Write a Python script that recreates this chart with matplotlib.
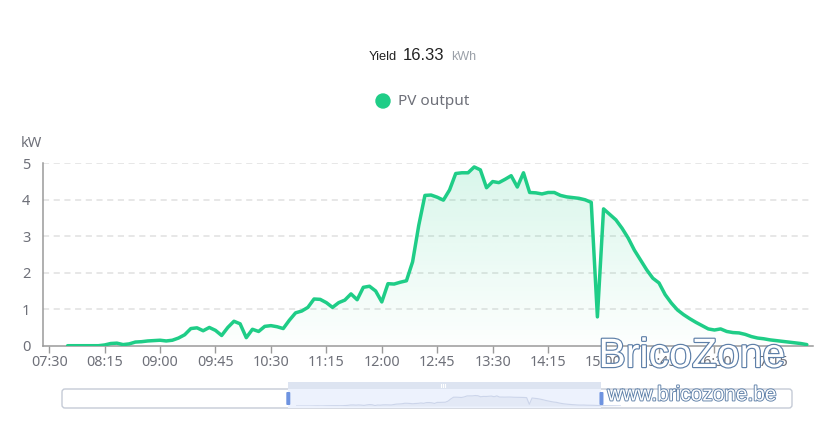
import numpy as np
import matplotlib
matplotlib.use("Agg")
import matplotlib.pyplot as plt
from matplotlib.patches import FancyBboxPatch, Rectangle, Circle
import matplotlib.patheffects as pe

# ---------------- data ----------------
series_name = "PV output"
yield_value = "16.33"
yield_unit = "kWh"
y_unit = "kW"
axis_start = "07:25"
axis_end = "17:50"
data_start = "07:45"
step_minutes = 5
pv_kw = [
    0.00, 0.00, 0.00, 0.00, 0.00, 0.00, 0.02, 0.06, 0.07, 0.03,   # 07:45-08:30
    0.05, 0.10, 0.11, 0.13, 0.14, 0.15, 0.13, 0.15, 0.21, 0.30,   # 08:35-09:20
    0.47, 0.49, 0.41, 0.50, 0.42, 0.28, 0.50, 0.67, 0.60, 0.22,   # 09:25-10:10
    0.45, 0.39, 0.53, 0.55, 0.52, 0.47, 0.70, 0.90, 0.95, 1.05,   # 10:15-11:00
    1.28, 1.27, 1.18, 1.05, 1.18, 1.25, 1.42, 1.26, 1.60, 1.63,   # 11:05-11:50
    1.50, 1.20, 1.70, 1.69, 1.74, 1.78, 2.30, 3.30, 4.12, 4.13,   # 11:55-12:40
    4.07, 3.99, 4.27, 4.72, 4.74, 4.74, 4.90, 4.82, 4.33, 4.50,   # 12:45-13:30
    4.47, 4.56, 4.66, 4.35, 4.74, 4.20, 4.19, 4.16, 4.20, 4.20,   # 13:35-14:20
    4.12, 4.08, 4.06, 4.04, 4.00, 3.93, 0.79, 3.75, 3.60, 3.45,   # 14:25-15:10
    3.22, 2.95, 2.62, 2.35, 2.08, 1.85, 1.72, 1.40, 1.17, 0.98,   # 15:15-16:00
    0.85, 0.74, 0.64, 0.55, 0.46, 0.43, 0.46, 0.39, 0.36, 0.35,   # 16:05-16:50
    0.31, 0.25, 0.21, 0.19, 0.16, 0.14, 0.12, 0.10, 0.08, 0.06,   # 16:55-17:40
    0.03,                                                        # 17:45
]
x_tick_labels = ["07:30", "08:15", "09:00", "09:45", "10:30", "11:15",
                 "12:00", "12:45", "13:30", "14:15", "15:00", "15:45",
                 "16:30", "17:15"]
y_ticks = [0, 1, 2, 3, 4, 5]
# data-zoom window (fraction of slider)
zoom_start_frac = 0.31
zoom_end_frac = 0.739


def to_min(s):
    h, m = s.split(":")
    return int(h) * 60 + int(m)


x = to_min(data_start) + step_minutes * np.arange(len(pv_kw))
y = np.array(pv_kw)

GREEN = "#1fcd87"
GREY_TXT = "#6e7079"
AXIS_C = "#9a9a9a"

W, H = 837, 436
fig = plt.figure(figsize=(W / 100, H / 100), dpi=100)
plt.rcParams["font.family"] = ["Noto Sans", "DejaVu Sans"]

# ---------------- main axes ----------------
L, R, T, B = 43, 813, 163.3, 345.7
ax = fig.add_axes([L / W, 1 - B / H, (R - L) / W, (B - T) / H])
ax.set_xlim(to_min(axis_start), to_min(axis_end))
ax.set_ylim(0, 5)

for v in y_ticks[1:]:
    ax.axhline(v, color="#e0e0e0", lw=1.1, ls=(0, (4, 3)), zorder=0)

# gradient area
poly = ax.fill_between(x, y, 0, color="none", lw=0)
path = poly.get_paths()[0]
grad = np.zeros((200, 2, 4))
rgb = matplotlib.colors.to_rgb(GREEN)
grad[..., 0], grad[..., 1], grad[..., 2] = rgb
alphas = np.linspace(0.17, 0.01, 200)
grad[..., 3] = alphas[:, None]
im = ax.imshow(grad, extent=[x.min(), x.max(), 0, y.max()], aspect="auto",
               origin="upper", zorder=1, interpolation="bilinear")
im.set_clip_path(path, transform=ax.transData)

ax.plot(x, y, color=GREEN, lw=2.5, solid_joinstyle="round",
        solid_capstyle="round", zorder=3, antialiased=True)

for s in ["top", "right"]:
    ax.spines[s].set_visible(False)
for s in ["left", "bottom"]:
    ax.spines[s].set_color(AXIS_C)
    ax.spines[s].set_linewidth(1.1)

ax.set_xticks([to_min(t) for t in x_tick_labels])
ax.set_xticklabels(x_tick_labels)
ax.set_yticks(y_ticks)
ax.tick_params(axis="x", length=5, width=1, color=AXIS_C, labelcolor=GREY_TXT,
               labelsize=10.3, pad=2)
ax.tick_params(axis="y", length=0, labelcolor=GREY_TXT, labelsize=10.5, pad=9)

# ---------------- overlay in pixel coords ----------------
ov = fig.add_axes([0, 0, 1, 1], zorder=5)
ov.set_xlim(0, W)
ov.set_ylim(H, 0)
ov.axis("off")
ov.patch.set_alpha(0)

ov.text(31, 143, y_unit, color=GREY_TXT, fontsize=10.5, ha="center", va="center")

# title
ov.text(397, 57, "Yield", color="#222222", fontsize=9.3, ha="right", va="center",
        family=["Liberation Sans", "DejaVu Sans"])
ov.text(403, 56, yield_value, color="#222222", fontsize=12, ha="left", va="center",
        family=["Liberation Sans", "DejaVu Sans"])
ov.text(451, 57, yield_unit, color="#9aa0a8", fontsize=9, ha="left", va="center",
        family=["Liberation Sans", "DejaVu Sans"])

# legend
ov.add_patch(Circle((383, 101), 7, color=GREEN))
ov.text(398, 101, series_name, color=GREY_TXT, fontsize=11, ha="left", va="center")

# slider
sx0, sx1, sy0, sy1 = 62, 792, 389, 408
ov.add_patch(FancyBboxPatch((sx0, sy0), sx1 - sx0, sy1 - sy0,
                            boxstyle="round,pad=0,rounding_size=3",
                            fc="white", ec="#c5cbd6", lw=1.0))
wx0 = sx0 + zoom_start_frac * (sx1 - sx0)
wx1 = sx0 + zoom_end_frac * (sx1 - sx0)
ov.add_patch(Rectangle((wx0, sy0), wx1 - wx0, sy1 - sy0, fc="#edf2fd", ec="none"))
ov.add_patch(Rectangle((wx0, 382), wx1 - wx0, 7, fc="#dde4f1", ec="none"))
for k in (-2, 0, 2):
    ov.plot([443 + k, 443 + k], [384, 387], color="white", lw=0.8)
for hx in (wx0, wx1):
    ov.add_patch(FancyBboxPatch((hx - 2, 392), 4, 13,
                                boxstyle="round,pad=0,rounding_size=1",
                                fc="#6e93e0", ec="none"))

# data shadow inside slider window
sh = fig.add_axes([(wx0 + 8) / W, 1 - 406 / H, (wx1 - wx0 + 12) / W, 16 / H], zorder=6)
sh.set_xlim(x.min(), x.max())
sh.set_ylim(0, 7.5)
sh.axis("off")
sh.patch.set_alpha(0)
sh.fill_between(x, y, 0, color="#e3e9f6", lw=0)
sh.plot(x, y, color="#ccd5ea", lw=0.8)

# watermark
stroke = [pe.withStroke(linewidth=1.7, foreground="#5d7fa8")]
ov.text(692, 356, "BricoZone", fontsize=29.5, color="white", ha="center", va="center",
        family=["Liberation Sans", "DejaVu Sans"], path_effects=stroke, zorder=10)
ov.text(692, 395, "www.bricozone.be", fontsize=15, color="white", ha="center",
        va="center", family=["Liberation Sans", "DejaVu Sans"],
        path_effects=[pe.withStroke(linewidth=1.3, foreground="#5d7fa8")], zorder=10)

fig.savefig("out.png", dpi=100)
